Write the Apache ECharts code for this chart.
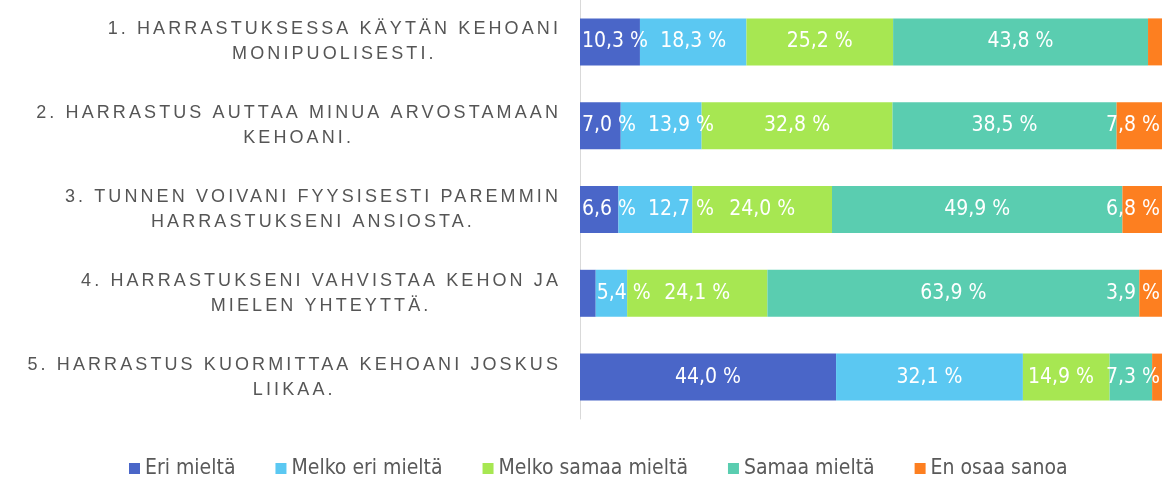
<!DOCTYPE html>
<html>
<head>
<meta charset="utf-8">
<script src="https://cdn.jsdelivr.net/npm/echarts@6/dist/echarts.min.js"></script>
<style>html,body{margin:0;padding:0;background:#fff}#chart{width:1174px;height:480px}</style>
</head>
<body>
<div id="chart"></div>
<script>
// ---- data ----
const categories = [
  '1. HARRASTUKSESSA KÄYTÄN KEHOANI\nMONIPUOLISESTI.',
  '2. HARRASTUS AUTTAA MINUA ARVOSTAMAAN\nKEHOANI.',
  '3. TUNNEN VOIVANI FYYSISESTI PAREMMIN\nHARRASTUKSENI ANSIOSTA.',
  '4. HARRASTUKSENI VAHVISTAA KEHON JA\nMIELEN YHTEYTTÄ.',
  '5. HARRASTUS KUORMITTAA KEHOANI JOSKUS\nLIIKAA.'
];
const seriesNames = ['Eri mieltä', 'Melko eri mieltä', 'Melko samaa mieltä', 'Samaa mieltä', 'En osaa sanoa'];
const eriMielta        = [10.3, 7.0, 6.6, 2.7, 44.0];
const melkoEriMielta   = [18.3, 13.9, 12.7, 5.4, 32.1];
const melkoSamaaMielta = [25.2, 32.8, 24.0, 24.1, 14.9];
const samaaMielta      = [43.8, 38.5, 49.9, 63.9, 7.3];
const enOsaaSanoa      = [2.4, 7.8, 6.8, 3.9, 1.7];
const allValues = [eriMielta, melkoEriMielta, melkoSamaaMielta, samaaMielta, enOsaaSanoa];
const colors = ['#4a66c8', '#5bc8f2', '#a7e752', '#5acdb0', '#fd7f20'];

// letter spacing for the category labels (canvas letterSpacing)
(function(){
  const P = CanvasRenderingContext2D.prototype;
  if (!('letterSpacing' in P)) return;
  ['fillText', 'strokeText', 'measureText'].forEach(function(fn){
    const orig = P[fn];
    P[fn] = function(){
      const want = (this.font || '').indexOf('Liberation Sans') >= 0 ? '3.1px' : '0px';
      if (this.letterSpacing !== want) this.letterSpacing = want;
      return orig.apply(this, arguments);
    };
  });
})();

const LABEL_FONT = '"DejaVu Sans Condensed", "DejaVu Sans", sans-serif';
const LABEL_SIZE = 21;
function fmt(v){ return v.toFixed(1).replace('.', ',') + ' %'; }
function showLabel(v){ return v >= 3; }

const chart = echarts.init(document.getElementById('chart'));

function buildSeries(offsets){
  return allValues.map(function(vals, si){
    return {
      name: seriesNames[si],
      type: 'bar',
      stack: 'total',
      barWidth: 47,
      itemStyle: { color: colors[si] },
      label: {
        show: true,
        position: 'inside',
        color: '#ffffff',
        fontFamily: LABEL_FONT,
        fontSize: LABEL_SIZE,
        formatter: function(p){ return fmt(p.value); }
      },
      data: vals.map(function(v, ri){
        return {
          value: v,
          label: { show: showLabel(v), offset: [offsets ? offsets[si][ri] : 0, 0] }
        };
      })
    };
  });
}

const option = {
  animation: false,
  backgroundColor: '#ffffff',
  grid: { left: 580, width: 582, top: 0, height: 419 },
  xAxis: { type: 'value', min: 0, max: 100, show: false },
  yAxis: {
    type: 'category',
    inverse: true,
    data: categories,
    axisTick: { show: false },
    axisLine: { show: true, lineStyle: { color: '#d9d9d9', width: 1 } },
    axisLabel: {
      interval: 0,
      align: 'right',
      margin: 19,
      formatter: function(v){ return v.split('\n').map(function(l){ return '{c|' + l + '}'; }).join('\n'); },
      rich: {
        c: { align: 'center', fontFamily: '"Liberation Sans", Arial, sans-serif', fontSize: 18, color: '#555555', lineHeight: 25 }
      }
    }
  },
  legend: {
    data: seriesNames,
    left: 124,
    top: 453,
    icon: 'rect',
    itemWidth: 11,
    itemHeight: 11,
    itemGap: 40,
    textStyle: { fontFamily: LABEL_FONT, fontSize: 21, color: '#595959' }
  },
  series: buildSeries(null)
};
chart.setOption(option);

// Excel-like label placement: keep labels inside plot and avoid overlap within a row
(function(){
  const ctx = document.createElement('canvas').getContext('2d');
  ctx.font = LABEL_SIZE + 'px ' + LABEL_FONT;
  const gap = 12;
  const plotLeft = chart.convertToPixel({ xAxisIndex: 0 }, 0);
  const plotRight = chart.convertToPixel({ xAxisIndex: 0 }, 100);
  const offsets = allValues.map(function(){ return []; });
  for (let r = 0; r < categories.length; r++) {
    let cum = 0;
    const items = [];
    for (let s = 0; s < allValues.length; s++) {
      const v = allValues[s][r];
      const x0 = chart.convertToPixel({ xAxisIndex: 0 }, cum);
      const x1 = chart.convertToPixel({ xAxisIndex: 0 }, cum + v);
      cum += v;
      offsets[s][r] = 0;
      if (!showLabel(v)) continue;
      const w = ctx.measureText(fmt(v)).width;
      items.push({ s: s, c: (x0 + x1) / 2, w: w, x0: x0, left: (x0 + x1) / 2 - w / 2 });
    }
    if (!items.length) continue;
    let bound = Math.max(plotLeft + 2, items[0].x0 + 1);
    items.forEach(function(it){
      if (it.left < bound) it.left = bound;
      bound = it.left + it.w + gap;
    });
    let rb = plotRight - 2;
    for (let i = items.length - 1; i >= 0; i--) {
      const it = items[i];
      if (it.left + it.w > rb) it.left = rb - it.w;
      rb = it.left - gap;
    }
    items.forEach(function(it){ offsets[it.s][r] = (it.left + it.w / 2) - it.c; });
  }
  chart.setOption({ series: buildSeries(offsets) });
})();
</script>
</body>
</html>
